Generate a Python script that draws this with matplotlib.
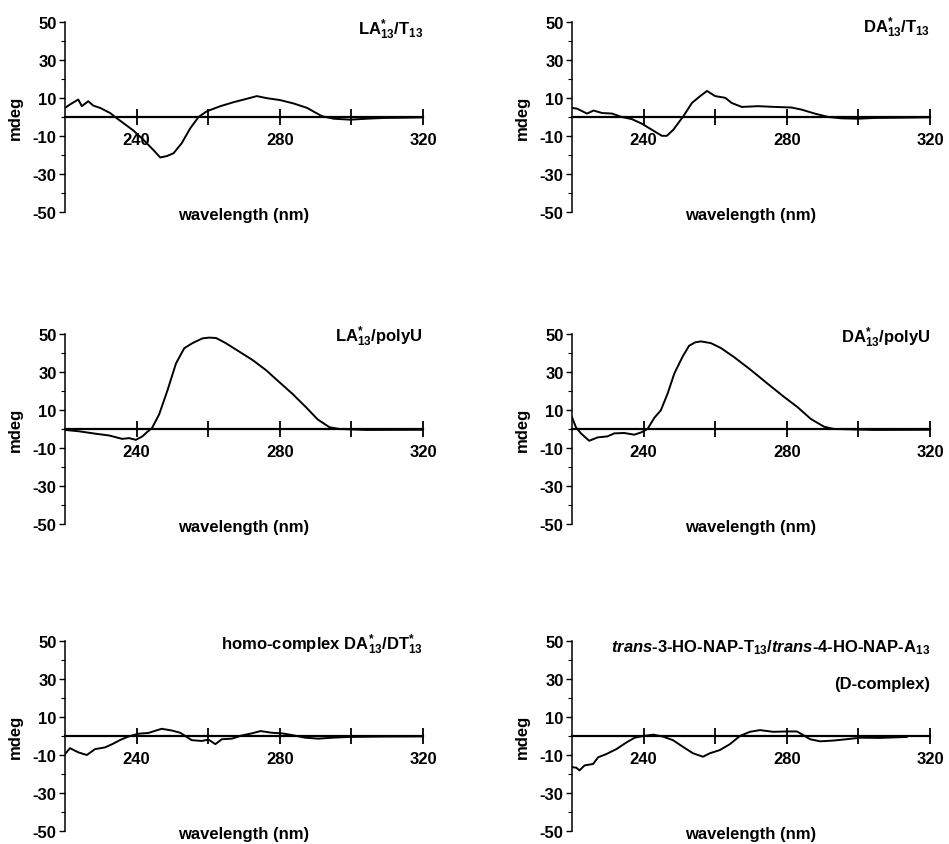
import matplotlib
matplotlib.use("Agg")
import matplotlib.pyplot as plt

plt.rcParams['font.family'] = ['Liberation Sans', 'DejaVu Sans']
plt.rcParams['font.weight'] = 'bold'
plt.rcParams['axes.unicode_minus'] = False
plt.rcParams['mathtext.fontset'] = 'custom'
plt.rcParams['mathtext.rm'] = 'Liberation Sans:bold'
plt.rcParams['mathtext.it'] = 'Liberation Sans:italic:bold'
plt.rcParams['mathtext.bf'] = 'Liberation Sans:bold'

# CD spectra (wavelength in nm, ellipticity in mdeg)
wl_la_t13 = [220, 221.4, 223.7, 224.7, 226.5, 227.9, 229.8, 232.6, 234, 236.3, 239.1, 241.9,
             244.7, 246.6, 248.4, 250.3, 252.6, 255, 257.3, 259.6, 263.4, 267.1, 270.8, 273.6,
             276.4, 280.1, 283.9, 287.6, 291.8, 295, 299.7, 304.3, 309, 313.7, 319.7]
cd_la_t13 = [4.8, 6.6, 9.2, 5.7, 8.3, 6.0, 4.8, 2.1, 0.0, -3.2, -7.1, -12.0,
             -17.4, -21.3, -20.6, -19.1, -13.8, -5.9, 0.0, 3.0, 5.7, 7.8, 9.6, 11.0,
             9.9, 8.9, 7.1, 4.8, 0.4, -0.9, -1.4, -0.9, -0.5, -0.4, -0.2]

wl_da_t13 = [220, 221.4, 224.2, 226, 228.4, 231.2, 233.9, 236.7, 239.5, 242.3, 245.1, 246.5,
             248.3, 251.1, 253.5, 255.8, 257.7, 260, 262.8, 264.6, 267.4, 272, 276.7, 281.3,
             284.1, 287.8, 291.6, 295.3, 299.9, 304.6, 310.1, 319.4]
cd_da_t13 = [4.8, 4.4, 1.8, 3.4, 2.1, 1.8, 0.0, -1.1, -3.5, -6.7, -9.9, -9.9,
             -6.7, 0.4, 7.4, 11.0, 13.7, 11.0, 10.1, 7.4, 5.3, 5.7, 5.3, 5.0,
             3.9, 1.8, 0.0, -0.7, -0.9, -0.5, -0.4, -0.2]

wl_la_polyu = [220, 223.9, 228.6, 232.3, 236, 237.9, 239.8, 241.6, 243, 244.3, 246.3, 248.6, 251,
               253.3, 255.6, 258.4, 260.3, 262.2, 264.9, 268.7, 272.4, 276.2, 279.9, 283.6, 287.4,
               290.6, 293.9, 296.7, 304.1, 320]
cd_la_polyu = [-0.5, -1.2, -2.5, -3.4, -5.2, -4.8, -5.7, -3.9, -1.5, 0.5, 7.7, 20.2, 34.5,
               42.5, 45.2, 47.7, 48.1, 47.9, 45.2, 40.7, 36.3, 30.9, 24.6, 18.4, 11.3,
               5.0, 0.9, 0.0, -0.5, -0.4]

wl_da_polyu = [220, 221.1, 222.5, 224.8, 227.2, 229.9, 231.8, 234.6, 237.4, 239.3, 241.1, 243,
               244.8, 246.7, 248.6, 250.9, 252.7, 254.4, 256, 258.8, 261.6, 265.3, 270, 274.6, 279.3,
               283, 286.7, 290.4, 293.2, 304.4, 320]
cd_da_polyu = [6.2, 0.9, -2.3, -6.2, -4.4, -3.9, -2.3, -2.1, -3.0, -1.8, 0.0, 5.9,
               9.8, 18.6, 29.3, 38.1, 43.8, 45.6, 46.1, 45.2, 42.6, 37.8, 31.0, 23.9, 16.8,
               11.5, 5.3, 1.2, 0.0, -0.5, -0.4]

wl_homo = [220, 221.4, 223.7, 226.1, 228.4, 231.2, 233.5, 235.4, 237.7, 240.5, 243.3, 247,
           249.8, 252.2, 255.4, 258.2, 260.1, 262, 263.8, 266.6, 269.4, 272.2, 274.6, 277.8,
           280.6, 283.4, 287.1, 290.8, 294.6, 299.2, 308.5, 319.7]
cd_homo = [-9.5, -6.4, -8.6, -10.0, -6.9, -6.0, -4.0, -2.1, -0.3, 1.2, 1.6, 3.8,
           2.9, 1.7, -2.2, -2.6, -1.9, -4.3, -1.7, -1.4, 0.3, 1.4, 2.6, 1.7,
           1.4, 0.5, -0.9, -1.4, -0.9, -0.5, -0.3, -0.2]

wl_dcomplex = [220.1, 221.2, 222.1, 223.5, 225.9, 227.3, 229.6, 232.4, 235.2, 237.5, 239.9, 242.7,
               245.4, 248.2, 251, 253.8, 256.6, 258.5, 261.3, 264.1, 266.9, 269.7, 272.5, 276.2,
               280, 282.8, 284.6, 286.5, 289.3, 293, 296.7, 300.5, 306.1, 313.5]
cd_dcomplex = [-16.4, -16.7, -18.1, -15.5, -14.7, -11.2, -9.5, -6.9, -3.4, -0.9, 0.0, 0.7,
               -0.3, -2.2, -5.7, -9.1, -10.9, -9.1, -7.4, -4.3, 0.0, 2.2, 3.1, 2.2,
               2.4, 2.4, 0.5, -1.7, -2.8, -2.4, -1.7, -0.9, -1.0, -0.5]

titles = [
    [r"LA$^{*}_{13}$/T$_{13}$"],
    [r"DA$^{*}_{13}$/T$_{13}$"],
    [r"LA$^{*}_{13}$/polyU"],
    [r"DA$^{*}_{13}$/polyU"],
    [r"homo-complex DA$^{*}_{13}$/DT$^{*}_{13}$"],
    [r"$\mathit{trans}$-3-HO-NAP-T$_{13}$/$\mathit{trans}$-4-HO-NAP-A$_{13}$", "(D-complex)"],
]
series = [(wl_la_t13, cd_la_t13), (wl_da_t13, cd_da_t13),
          (wl_la_polyu, cd_la_polyu), (wl_da_polyu, cd_da_polyu),
          (wl_homo, cd_homo), (wl_dcomplex, cd_dcomplex)]

x_ticks = [240, 260, 280, 300, 320]
x_ticklabels = ['240', '', '280', '', '320']
y_ticks = [-50, -30, -10, 10, 30, 50]
y_minor = [-40, -20, 0, 20, 40]

W, H = 949, 845
fig = plt.figure(figsize=(W / 100, H / 100), dpi=100)

lefts = [65, 572]
tops = [23, 335, 642]
aw, ah = 358, 190
title_y = [[0.963], [0.974], [0.99], [0.985], [0.985], [0.97, 0.776]]

for i, (wl, cd) in enumerate(series):
    row, col = divmod(i, 2)
    l, t = lefts[col], tops[row]
    ax = fig.add_axes([l / W, 1 - (t + ah) / H, aw / W, ah / H])
    ax.plot(wl, cd, color='black', lw=1.4)

    ax.set_xlim(220, 320)
    ax.set_ylim(-50, 50)
    ax.spines['top'].set_visible(False)
    ax.spines['right'].set_visible(False)
    ax.spines['bottom'].set_position(('data', 0))
    ax.spines['bottom'].set_linewidth(1.6)
    ax.spines['left'].set_linewidth(1.1)

    ax.set_xticks(x_ticks)
    ax.set_xticklabels(x_ticklabels)
    ax.tick_params(axis='x', direction='inout', length=11, width=1.3, pad=5, labelsize=12)
    ax.set_yticks(y_ticks)
    ax.set_yticks(y_minor, minor=True)
    ax.tick_params(axis='y', which='major', direction='out', length=4, width=1.0, pad=2, labelsize=12)
    ax.tick_params(axis='y', which='minor', direction='out', length=3, width=0.8)

    ax.text(0.5, -0.012, 'wavelength (nm)', transform=ax.transAxes,
            ha='center', va='center', fontsize=12)
    ax.text(-50 / aw, 0.5, 'mdeg', transform=ax.transAxes, rotation=90,
            ha='center', va='center', fontsize=12)
    for txt, ty in zip(titles[i], title_y[i]):
        ax.text(1.0, ty, txt, transform=ax.transAxes, ha='right', va='center', fontsize=12)

fig.savefig('out.png', dpi=100)
